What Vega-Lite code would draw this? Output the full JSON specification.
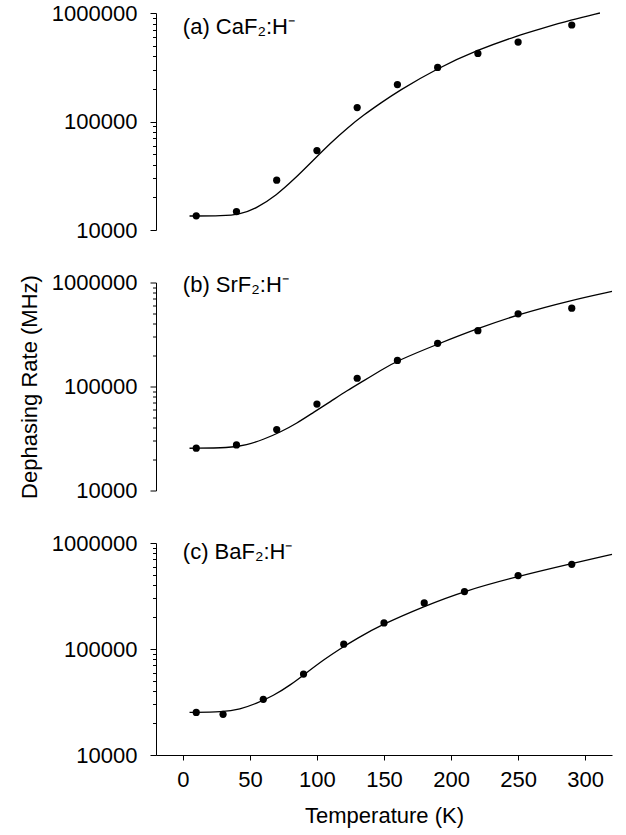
{
  "$schema": "https://vega.github.io/schema/vega-lite/v6.json",
  "background": "white",
  "padding": {"left": 18, "top": 2, "right": 5, "bottom": 5},
  "bounds": "flush",
  "spacing": 52.5,
  "config": {
    "font": "Liberation Sans",
    "view": {"stroke": null},
    "axis": {
      "grid": false,
      "domainColor": "black",
      "tickColor": "black",
      "labelColor": "black",
      "titleColor": "black",
      "labelFontSize": 22,
      "titleFontSize": 22,
      "titleFontWeight": "normal",
      "domainWidth": 1,
      "tickWidth": 1
    }
  },
  "datasets": {
    "points": [
      {"material": "CaF2", "T": 10, "rate": 13500},
      {"material": "CaF2", "T": 40, "rate": 14800},
      {"material": "CaF2", "T": 70, "rate": 28800},
      {"material": "CaF2", "T": 100, "rate": 54000},
      {"material": "CaF2", "T": 130, "rate": 134500},
      {"material": "CaF2", "T": 160, "rate": 219000},
      {"material": "CaF2", "T": 190, "rate": 315000},
      {"material": "CaF2", "T": 220, "rate": 424000},
      {"material": "CaF2", "T": 250, "rate": 540000},
      {"material": "CaF2", "T": 290, "rate": 775000},
      {"material": "SrF2", "T": 10, "rate": 25500},
      {"material": "SrF2", "T": 40, "rate": 27400},
      {"material": "SrF2", "T": 70, "rate": 38500},
      {"material": "SrF2", "T": 100, "rate": 67800},
      {"material": "SrF2", "T": 130, "rate": 120000},
      {"material": "SrF2", "T": 160, "rate": 178000},
      {"material": "SrF2", "T": 190, "rate": 260000},
      {"material": "SrF2", "T": 220, "rate": 344000},
      {"material": "SrF2", "T": 250, "rate": 500000},
      {"material": "SrF2", "T": 290, "rate": 567000},
      {"material": "BaF2", "T": 10, "rate": 25200},
      {"material": "BaF2", "T": 30, "rate": 24200},
      {"material": "BaF2", "T": 60, "rate": 33500},
      {"material": "BaF2", "T": 90, "rate": 58000},
      {"material": "BaF2", "T": 120, "rate": 111000},
      {"material": "BaF2", "T": 150, "rate": 176000},
      {"material": "BaF2", "T": 180, "rate": 272000},
      {"material": "BaF2", "T": 210, "rate": 348000},
      {"material": "BaF2", "T": 250, "rate": 493000},
      {"material": "BaF2", "T": 290, "rate": 630000}
    ],
    "fits": [
      {"material": "CaF2", "T": 5, "rate": 13460},
      {"material": "CaF2", "T": 30, "rate": 13460},
      {"material": "CaF2", "T": 42.5, "rate": 13960},
      {"material": "CaF2", "T": 55, "rate": 15850},
      {"material": "CaF2", "T": 70, "rate": 21040},
      {"material": "CaF2", "T": 82.5, "rate": 28940},
      {"material": "CaF2", "T": 97.5, "rate": 44260},
      {"material": "CaF2", "T": 110, "rate": 63100},
      {"material": "CaF2", "T": 122.5, "rate": 86830},
      {"material": "CaF2", "T": 135, "rate": 115200},
      {"material": "CaF2", "T": 147.5, "rate": 147700},
      {"material": "CaF2", "T": 160, "rate": 188700},
      {"material": "CaF2", "T": 190, "rate": 310400},
      {"material": "CaF2", "T": 220, "rate": 458000},
      {"material": "CaF2", "T": 250, "rate": 621000},
      {"material": "CaF2", "T": 266, "rate": 711000},
      {"material": "CaF2", "T": 290, "rate": 867000},
      {"material": "CaF2", "T": 311, "rate": 1000000},
      {"material": "SrF2", "T": 5, "rate": 25470},
      {"material": "SrF2", "T": 35, "rate": 25640},
      {"material": "SrF2", "T": 47.5, "rate": 27400},
      {"material": "SrF2", "T": 60, "rate": 30880},
      {"material": "SrF2", "T": 72.5, "rate": 36290},
      {"material": "SrF2", "T": 85, "rate": 44290},
      {"material": "SrF2", "T": 97.5, "rate": 56480},
      {"material": "SrF2", "T": 110, "rate": 71520},
      {"material": "SrF2", "T": 122.5, "rate": 91250},
      {"material": "SrF2", "T": 135, "rate": 113800},
      {"material": "SrF2", "T": 147.5, "rate": 143000},
      {"material": "SrF2", "T": 160, "rate": 177100},
      {"material": "SrF2", "T": 190, "rate": 255700},
      {"material": "SrF2", "T": 220, "rate": 361600},
      {"material": "SrF2", "T": 250, "rate": 493000},
      {"material": "SrF2", "T": 290, "rate": 676000},
      {"material": "SrF2", "T": 320, "rate": 819800},
      {"material": "BaF2", "T": 5, "rate": 25240},
      {"material": "BaF2", "T": 30, "rate": 25420},
      {"material": "BaF2", "T": 42.5, "rate": 26950},
      {"material": "BaF2", "T": 55, "rate": 30690},
      {"material": "BaF2", "T": 67.5, "rate": 36200},
      {"material": "BaF2", "T": 80, "rate": 45500},
      {"material": "BaF2", "T": 92.5, "rate": 60000},
      {"material": "BaF2", "T": 105, "rate": 79000},
      {"material": "BaF2", "T": 117.5, "rate": 101000},
      {"material": "BaF2", "T": 130, "rate": 126000},
      {"material": "BaF2", "T": 147.5, "rate": 167800},
      {"material": "BaF2", "T": 180, "rate": 253400},
      {"material": "BaF2", "T": 210, "rate": 353000},
      {"material": "BaF2", "T": 250, "rate": 485700},
      {"material": "BaF2", "T": 290, "rate": 639700},
      {"material": "BaF2", "T": 320, "rate": 782800}
    ],
    "labels": [
      {"material": "CaF2", "T": 0, "rate": 740000, "label": "(a) CaF₂:H⁻"},
      {"material": "SrF2", "T": 0, "rate": 945000, "label": "(b) SrF₂:H⁻"},
      {"material": "BaF2", "T": 0, "rate": 815000, "label": "(c) BaF₂:H⁻"}
    ]
  },
  "vconcat": [
    {
      "width": 456,
      "height": 217,
      "encoding": {
        "x": {"field": "T", "type": "quantitative", "scale": {"domain": [-20, 320], "nice": false, "zero": false}, "axis": null},
        "y": {
          "field": "rate", "type": "quantitative",
          "scale": {"type": "log", "domain": [10000, 1000000], "nice": false},
          "axis": {
            "title": null,
            "values": [10000, 20000, 30000, 40000, 50000, 60000, 70000, 80000, 90000, 100000, 200000, 300000, 400000, 500000, 600000, 700000, 800000, 900000, 1000000],
            "labelExpr": "indexof([10000, 100000, 1000000], datum.value) >= 0 ? format(datum.value, 'd') : ''",
            "tickSize": {"condition": {"test": "indexof([10000, 100000, 1000000], datum.value) >= 0", "value": 6}, "value": 3.5},
            "labelPadding": 13,
            "labelFlush": false,
            "labelOverlap": false
          }
        }
      },
      "layer": [
        {
          "data": {"name": "fits"},
          "transform": [{"filter": "datum.material === 'CaF2'"}],
          "mark": {"type": "line", "color": "black", "strokeWidth": 1.3, "interpolate": "basis"}
        },
        {
          "data": {"name": "points"},
          "transform": [{"filter": "datum.material === 'CaF2'"}],
          "mark": {"type": "circle", "size": 52, "color": "black", "opacity": 1}
        },
        {
          "data": {"name": "labels"},
          "transform": [{"filter": "datum.material === 'CaF2'"}],
          "mark": {"type": "text", "align": "left", "baseline": "middle", "fontSize": 22, "color": "black"},
          "encoding": {"text": {"field": "label"}}
        }
      ]
    },
    {
      "width": 456,
      "height": 208,
      "encoding": {
        "x": {"field": "T", "type": "quantitative", "scale": {"domain": [-20, 320], "nice": false, "zero": false}, "axis": null},
        "y": {
          "field": "rate", "type": "quantitative",
          "scale": {"type": "log", "domain": [10000, 1000000], "nice": false},
          "axis": {
            "title": "Dephasing Rate (MHz)",
            "titlePadding": 10,
            "values": [10000, 20000, 30000, 40000, 50000, 60000, 70000, 80000, 90000, 100000, 200000, 300000, 400000, 500000, 600000, 700000, 800000, 900000, 1000000],
            "labelExpr": "indexof([10000, 100000, 1000000], datum.value) >= 0 ? format(datum.value, 'd') : ''",
            "tickSize": {"condition": {"test": "indexof([10000, 100000, 1000000], datum.value) >= 0", "value": 6}, "value": 3.5},
            "labelPadding": 13,
            "labelFlush": false,
            "labelOverlap": false
          }
        }
      },
      "layer": [
        {
          "data": {"name": "fits"},
          "transform": [{"filter": "datum.material === 'SrF2'"}],
          "mark": {"type": "line", "color": "black", "strokeWidth": 1.3, "interpolate": "basis"}
        },
        {
          "data": {"name": "points"},
          "transform": [{"filter": "datum.material === 'SrF2'"}],
          "mark": {"type": "circle", "size": 52, "color": "black", "opacity": 1}
        },
        {
          "data": {"name": "labels"},
          "transform": [{"filter": "datum.material === 'SrF2'"}],
          "mark": {"type": "text", "align": "left", "baseline": "middle", "fontSize": 22, "color": "black"},
          "encoding": {"text": {"field": "label"}}
        }
      ]
    },
    {
      "width": 456,
      "height": 212,
      "encoding": {
        "x": {
          "field": "T", "type": "quantitative",
          "scale": {"domain": [-20, 320], "nice": false, "zero": false},
          "axis": {
            "title": "Temperature (K)",
            "values": [0, 50, 100, 150, 200, 250, 300],
            "format": "d",
            "tickSize": 5,
            "labelPadding": 9,
            "titlePadding": 15,
            "labelFlush": false
          }
        },
        "y": {
          "field": "rate", "type": "quantitative",
          "scale": {"type": "log", "domain": [10000, 1000000], "nice": false},
          "axis": {
            "title": null,
            "values": [10000, 20000, 30000, 40000, 50000, 60000, 70000, 80000, 90000, 100000, 200000, 300000, 400000, 500000, 600000, 700000, 800000, 900000, 1000000],
            "labelExpr": "indexof([10000, 100000, 1000000], datum.value) >= 0 ? format(datum.value, 'd') : ''",
            "tickSize": {"condition": {"test": "indexof([10000, 100000, 1000000], datum.value) >= 0", "value": 6}, "value": 3.5},
            "labelPadding": 13,
            "labelFlush": false,
            "labelOverlap": false
          }
        }
      },
      "layer": [
        {
          "data": {"name": "fits"},
          "transform": [{"filter": "datum.material === 'BaF2'"}],
          "mark": {"type": "line", "color": "black", "strokeWidth": 1.3, "interpolate": "basis"}
        },
        {
          "data": {"name": "points"},
          "transform": [{"filter": "datum.material === 'BaF2'"}],
          "mark": {"type": "circle", "size": 52, "color": "black", "opacity": 1}
        },
        {
          "data": {"name": "labels"},
          "transform": [{"filter": "datum.material === 'BaF2'"}],
          "mark": {"type": "text", "align": "left", "baseline": "middle", "fontSize": 22, "color": "black"},
          "encoding": {"text": {"field": "label"}}
        }
      ]
    }
  ]
}
